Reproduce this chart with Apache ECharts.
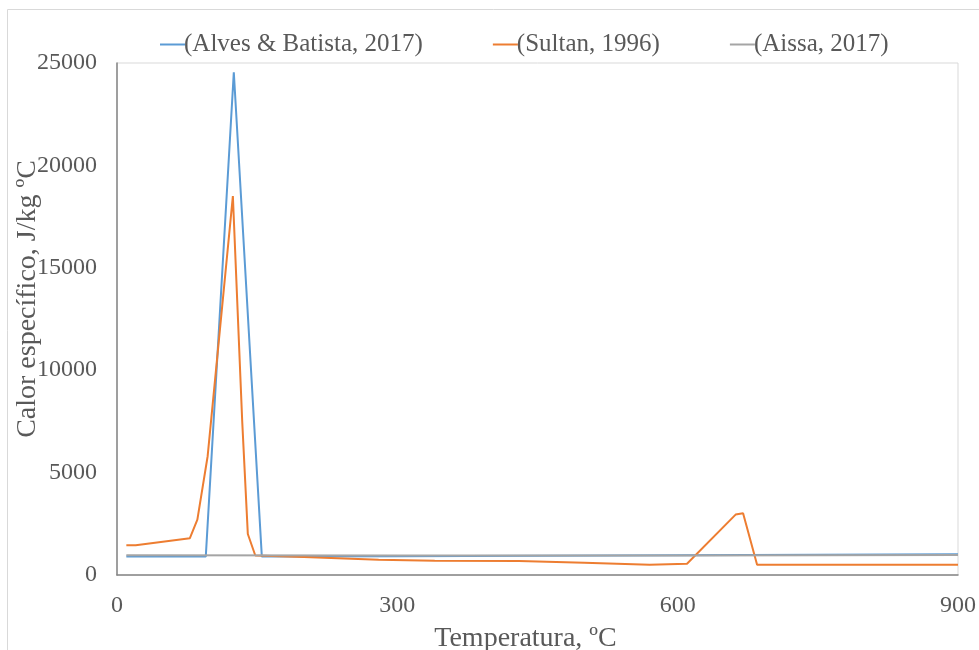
<!DOCTYPE html>
<html>
<head>
<meta charset="utf-8">
<script src="https://cdn.jsdelivr.net/npm/echarts@6/dist/echarts.min.js"></script>
<style>html,body{margin:0;padding:0;background:#fff}#c{width:979px;height:650px}</style>
</head>
<body>
<div id="c"></div>
<script>
const seriesNames = ['(Alves & Batista, 2017)', '(Sultan, 1996)', '(Aissa, 2017)'];
const alvesT = [10, 95, 125, 155, 300, 450, 600, 750, 900];
const alvesV = [900, 900, 24550, 900, 920, 945, 970, 990, 1010];
const sultanT = [10, 20, 78, 86, 97, 124, 134, 140, 148, 200, 280, 340, 430, 500, 570, 610, 662, 670, 685, 900];
const sultanV = [1450, 1450, 1800, 2700, 5800, 18500, 7500, 2000, 950, 880, 740, 700, 680, 600, 500, 550, 2950, 3020, 500, 500];
const aissaT = [10, 300, 600, 900];
const aissaV = [960, 955, 955, 975];
const xTicks = { min: 0, max: 900, interval: 300 };
const yTicks = { min: 0, max: 25000, interval: 5000 };

const pairs = (t, v) => t.map((x, i) => [x, v[i]]);
const chart = echarts.init(document.getElementById('c'));
const font = 'Liberation Serif, Times New Roman, serif';
chart.setOption({
  animation: false,
  color: ['#5B9BD5', '#ED7D31', '#A5A5A5'],
  graphic: [{
    type: 'rect', silent: true,
    shape: { x: 7.5, y: 9.5, width: 1100, height: 800 },
    style: { fill: 'none', stroke: '#d9d9d9', lineWidth: 1 }
  }],
  legend: {
    left: 155, top: 27,
    itemWidth: 25, itemHeight: 2, itemGap: 70,
    icon: 'rect',
    textStyle: { fontFamily: font, fontSize: 25, color: '#595959', padding: [0, 0, 0, -6] },
    data: seriesNames
  },
  grid: {
    left: 117, top: 63, right: 21, bottom: 75,
    containLabel: false, outerBoundsMode: 'none',
    show: true, borderColor: '#d9d9d9', borderWidth: 1
  },
  xAxis: {
    type: 'value', min: xTicks.min, max: xTicks.max, interval: xTicks.interval,
    name: 'Temperatura, ºC', nameLocation: 'middle', nameGap: 50, nameMoveOverlap: false,
    nameTextStyle: { fontFamily: font, fontSize: 28, color: '#595959', padding: [0, 24, 0, 0] },
    axisLine: { show: true, lineStyle: { color: '#868686', width: 1.5 } },
    axisTick: { show: false },
    splitLine: { show: false },
    axisLabel: { fontFamily: font, fontSize: 24, color: '#595959', margin: 19, formatter: v => String(v) }
  },
  yAxis: {
    type: 'value', min: yTicks.min, max: yTicks.max, interval: yTicks.interval,
    name: 'Calor específico, J/kg ºC', nameLocation: 'middle', nameGap: 75, nameMoveOverlap: false,
    nameTextStyle: { fontFamily: font, fontSize: 28, color: '#595959', padding: [0, 0, 0, 40] },
    axisLine: { show: true, lineStyle: { color: '#868686', width: 1.5 } },
    axisTick: { show: false },
    splitLine: { show: false },
    axisLabel: { fontFamily: font, fontSize: 24, color: '#595959', margin: 20, formatter: v => String(v) }
  },
  series: [
    { name: seriesNames[0], type: 'line', data: pairs(alvesT, alvesV), showSymbol: false, lineStyle: { width: 2 } },
    { name: seriesNames[1], type: 'line', data: pairs(sultanT, sultanV), showSymbol: false, lineStyle: { width: 2 } },
    { name: seriesNames[2], type: 'line', data: pairs(aissaT, aissaV), showSymbol: false, lineStyle: { width: 2 } }
  ]
});
</script>
</body>
</html>
